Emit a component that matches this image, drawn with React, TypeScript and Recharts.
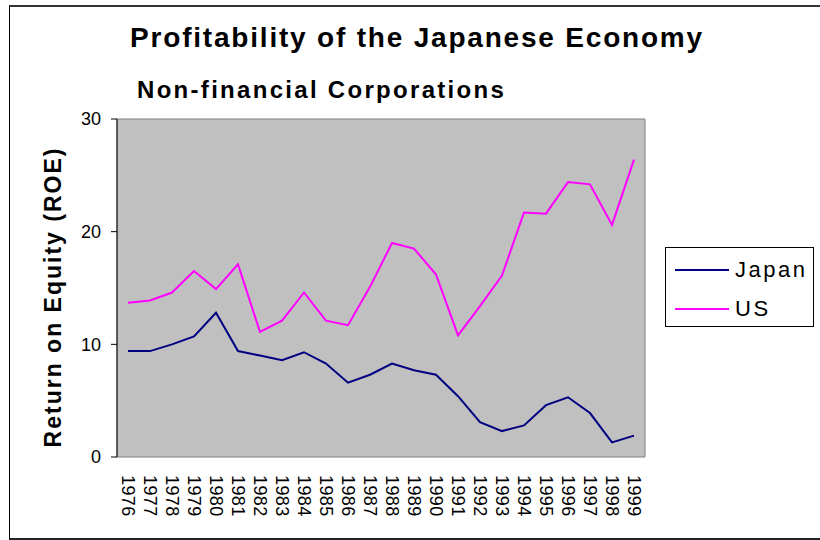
import { LineChart, Line, XAxis, YAxis, ReferenceArea } from 'recharts';

const years = [
  '1976', '1977', '1978', '1979', '1980', '1981', '1982', '1983', '1984', '1985', '1986', '1987',
  '1988', '1989', '1990', '1991', '1992', '1993', '1994', '1995', '1996', '1997', '1998', '1999',
];
const japan = [9.4, 9.4, 10.0, 10.7, 12.8, 9.4, 9.0, 8.6, 9.3, 8.3, 6.6, 7.3, 8.3, 7.7, 7.3, 5.4, 3.1, 2.3, 2.8, 4.6, 5.3, 3.9, 1.3, 1.9];
const us = [13.7, 13.9, 14.6, 16.5, 14.9, 17.1, 11.1, 12.1, 14.6, 12.1, 11.7, 15.1, 19.0, 18.5, 16.2, 10.8, 13.4, 16.1, 21.7, 21.6, 24.4, 24.2, 20.6, 26.4];
const yTicks = [0, 10, 20, 30];

const series = [
  { key: 'japan', name: 'Japan', color: '#000080' },
  { key: 'us', name: 'US', color: '#ff00ff' },
];

const data = years.map((year, i) => ({ i, year, japan: japan[i], us: us[i] }));
const centerTicks = years.map((_, i) => i);
const edgeTicks = years.map((_, i) => i - 0.5).concat(years.length - 0.5);
const domain: [number, number] = [-0.5, years.length - 0.5];

const FONT = '"Liberation Sans", Arial, sans-serif';

function YearTick(props: any) {
  const { x, y, payload } = props;
  return (
    <text
      x={x}
      y={y}
      transform={`rotate(90, ${x}, ${y})`}
      textAnchor="start"
      dominantBaseline="central"
      fontSize={18}
      letterSpacing={0.4}
      fontFamily={FONT}
      fill="#000"
    >
      {years[payload.value]}
    </text>
  );
}

export default function App() {
  return (
    <div style={{ position: 'absolute', left: 0, top: 0, width: 820, height: 540, background: '#fff', fontFamily: FONT }}>
      <div
        style={{
          position: 'absolute',
          left: 9,
          top: 5,
          width: 820,
          height: 531,
          borderLeft: '1px solid #000',
          borderTop: '2px solid #333',
          borderBottom: '2px solid #222',
        }}
      />
      <div style={{ position: 'absolute', left: 0, top: 0 }}>
        <LineChart width={820} height={540} data={data} margin={{ top: 119, right: 175, bottom: 13, left: 57 }}>
          <XAxis
            xAxisId="edge"
            type="number"
            domain={domain}
            ticks={edgeTicks}
            tick={false}
            height={0}
            stroke="#000"
            tickSize={6}
          />
          <XAxis
            xAxisId="lab"
            type="number"
            dataKey="i"
            domain={domain}
            ticks={centerTicks}
            axisLine={false}
            tickLine={false}
            tickSize={6}
            tickMargin={12}
            interval={0}
            height={70}
            tick={<YearTick />}
          />
          <YAxis
            type="number"
            domain={[0, 30]}
            ticks={yTicks}
            width={60}
            stroke="#000"
            tickSize={6}
            tickMargin={10}
            tick={{ fontSize: 18, fill: '#000', fontFamily: FONT }}
          />
          <ReferenceArea
            xAxisId="lab"
            x1={domain[0]}
            x2={domain[1]}
            y1={0}
            y2={30}
            fill="#c0c0c0"
            fillOpacity={1}
            stroke="#808080"
            strokeWidth={1}
          />
          {series.map((s) => (
            <Line
              key={s.key}
              xAxisId="lab"
              type="linear"
              dataKey={s.key}
              name={s.name}
              stroke={s.color}
              strokeWidth={2}
              dot={false}
              isAnimationActive={false}
            />
          ))}
        </LineChart>
      </div>
      <svg width={820} height={540} style={{ position: 'absolute', left: 0, top: 0, pointerEvents: 'none' }}>
        <text x={417} y={47} textAnchor="middle" fontSize={28} letterSpacing={1.8} fontWeight="bold" fontFamily={FONT} fill="#000">
          Profitability of the Japanese Economy
        </text>
        <text x={137} y={98} fontSize={24} letterSpacing={2.3} fontWeight="bold" fontFamily={FONT} fill="#000">
          Non-financial Corporations
        </text>
        <text
          x={61}
          y={297}
          transform="rotate(-90, 61, 297)"
          textAnchor="middle"
          fontSize={23}
          letterSpacing={2}
          fontWeight="bold"
          fontFamily={FONT}
          fill="#000"
        >
          Return on Equity (ROE)
        </text>
      </svg>
      <div
        style={{
          position: 'absolute',
          left: 665,
          top: 247,
          width: 149,
          height: 80,
          border: '1px solid #000',
          background: '#fff',
          boxSizing: 'border-box',
        }}
      >
        {series.map((s, idx) => (
          <div
            key={s.key}
            style={{ position: 'absolute', left: 9, top: 6 + idx * 39, height: 32, display: 'flex', alignItems: 'center' }}
          >
            <span style={{ display: 'inline-block', width: 54, height: 2, background: s.color, marginRight: 6 }} />
            <span style={{ fontSize: 22, letterSpacing: 2.5, color: '#000', lineHeight: '32px' }}>{s.name}</span>
          </div>
        ))}
      </div>
    </div>
  );
}
